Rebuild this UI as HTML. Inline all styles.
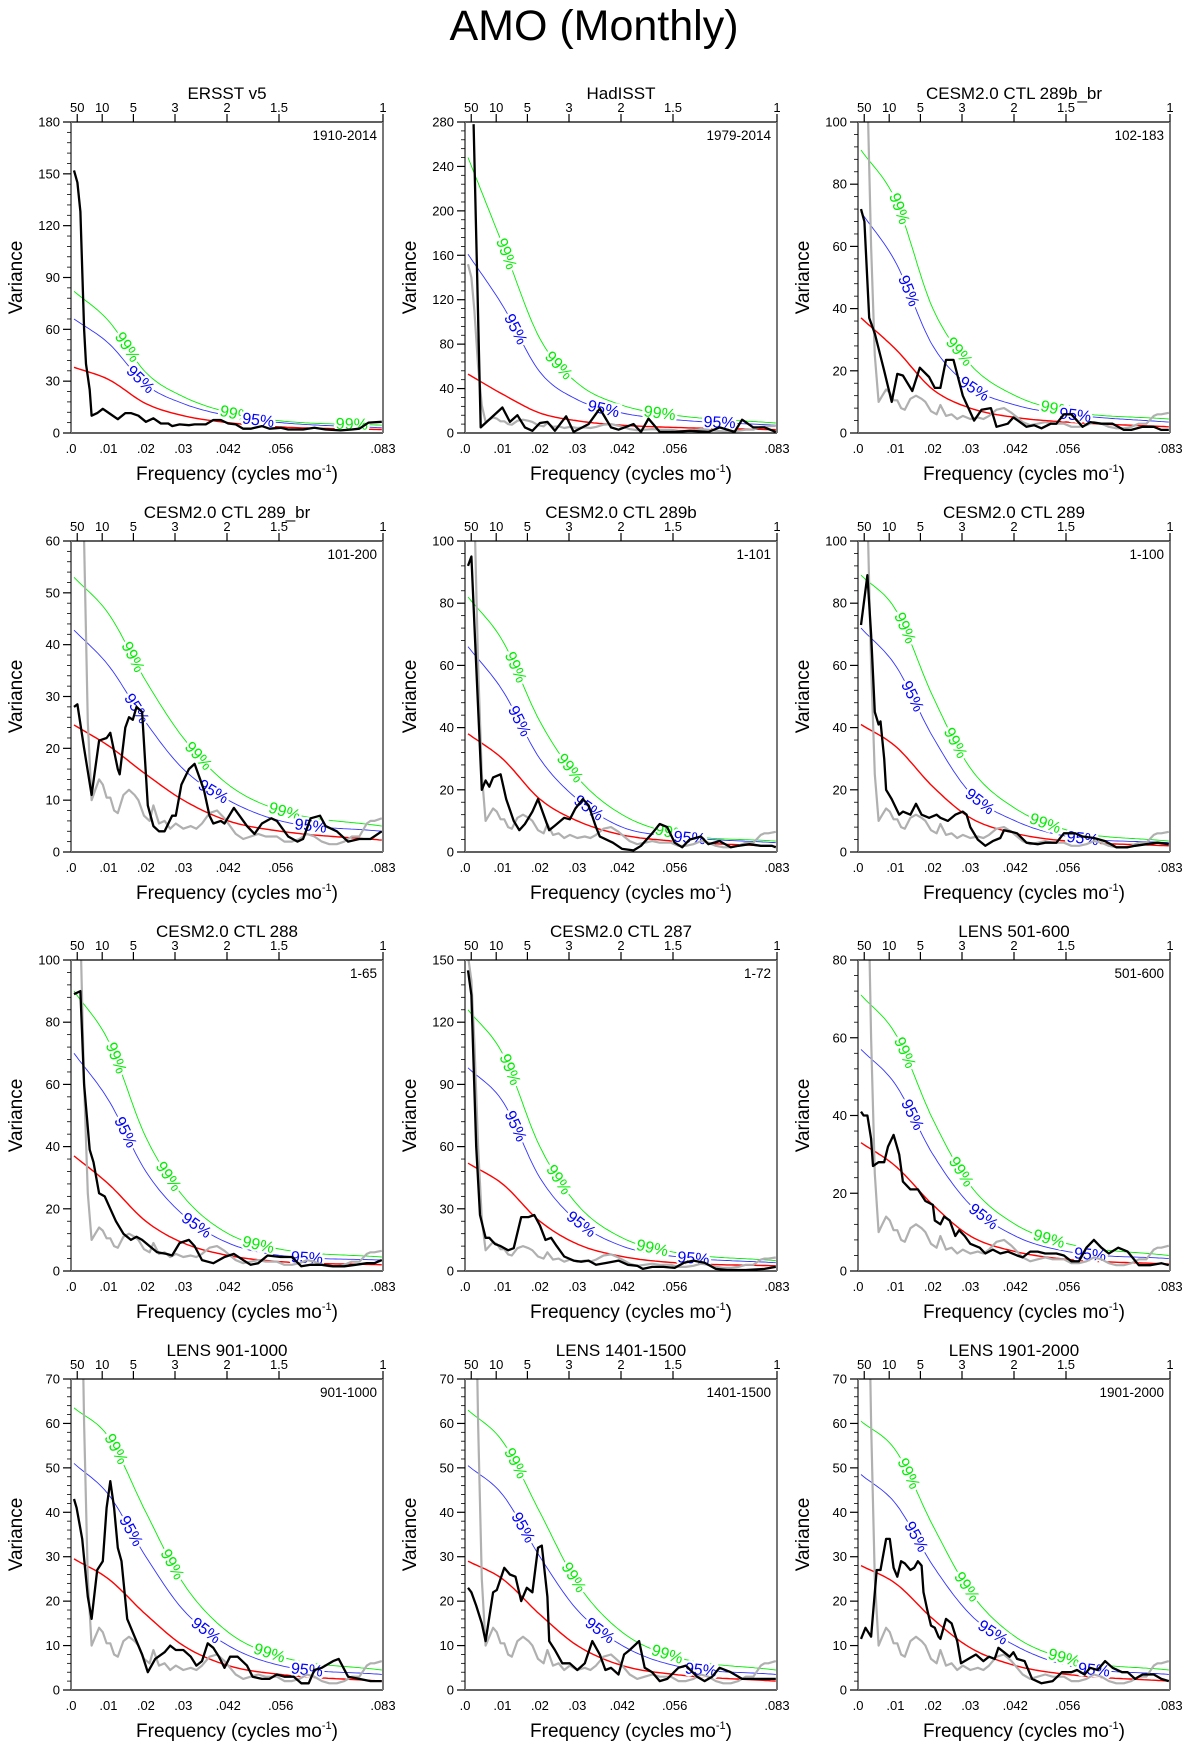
<!DOCTYPE html>
<html><head><meta charset="utf-8">
<style>
html,body{margin:0;padding:0;background:#fff;}
svg{display:block;font-family:"Liberation Sans",sans-serif;}
</style></head>
<body>
<svg id="fig" width="1189" height="1748" viewBox="0 0 1189 1748" xmlns="http://www.w3.org/2000/svg">
<text x="594" y="40" text-anchor="middle" font-size="43">AMO (Monthly)</text>
</svg>
<script>
// ---- data ----
const panelTitles = ["ERSST v5","HadISST","CESM2.0 CTL 289b_br","CESM2.0 CTL 289_br","CESM2.0 CTL 289b","CESM2.0 CTL 289","CESM2.0 CTL 288","CESM2.0 CTL 287","LENS 501-600","LENS 901-1000","LENS 1401-1500","LENS 1901-2000"];
const panelRanges = ["1910-2014","1979-2014","102-183","101-200","1-101","1-100","1-65","1-72","501-600","901-1000","1401-1500","1901-2000"];
const yMax = [180,280,100,60,100,100,100,150,80,70,70,70];
const yStep = [30,40,20,10,20,20,20,30,20,10,10,10];
const xTickVals = [0,0.01,0.02,0.03,0.042,0.056,1/12];
const xTickLabels = [".0",".01",".02",".03",".042",".056",".083"];
const periodTicks = [50,10,5,3,2,1.5,1];
const sigF = [0.0008,0.01,0.02,0.03,0.042,0.056,0.083];
const redV = [
[38,31,17,10,6,3.5,2],[53,35,18,11,7,5,3],[37,27,14,8,5,3.5,2],[24.5,20.5,15,10,6,4,2.3],
[38,30,17,10,5.5,3.5,1.8],[41,34,21,11,6,3.5,2],[37,28,16,9,5,3,2],[52,42,24,13,7,4,2.5],
[33,27,17,9,5,3,1.8],[29.5,25,17,10,5.5,3.5,2],[29,25,17,10,5.5,3.5,2],[28,24,16,9.5,5.5,3.5,2]];
const blueV = [
[66,52,28,17,10,6,3],[161,115,55,30,18,12,7],[71,55,28,15,9,6,3.5],[42.8,36,25,16,10,6,4],
[66,52,30,17,8,5,3],[72,60,37,19,10,5,3],[70,55,32,18,9,5,3.5],[98,82,45,24,12,7,4],
[57,48,30,17,9,5,3.2],[51,44,30,18,10,5.5,3.5],[50.5,44,30,18,10,5.5,3.5],[48.5,42,28,17,10,5.5,3.5]];
const greenV = [
[82,65,35,21,12,7,4.5],[248,170,85,45,25,16,9],[91,75,40,22,12,7,4.5],[53,46,33,22,13,8,5],
[82,68,42,24,12,6,3.5],[89,78,50,27,14,7,3.5],[90,74,43,24,12,7,4.5],[126,105,60,32,16,9,5],
[71,61,39,22,12,7,4],[63.5,57,40,24,13,7.5,4.5],[63,56,40,24,13,7.5,4.5],[60.5,54,37,22,12,7,4.5]];
const grayF = [.0008,.0017,.0025,.0035,.0045,.0055,.0065,.0075,.0085,.0095,.0105,.0115,.0125,.014,.0155,.017,.018,.0195,.021,.022,.0235,.025,.0265,.028,.03,.032,.0335,.035,.037,.039,.041,.0425,.044,.046,.048,.05,.052,.055,.057,.059,.061,.063,.065,.067,.069,.071,.073,.075,.077,.079,.08,.081,.083];
const grayV = [152,140,110,60,25,10,12,14,13,10.5,10.5,8,7.5,11,12,11,10,7,6,9,5.5,6,4.5,5.5,4.5,5,4.5,5.5,7.5,8,6.5,5,3.5,2.5,3,3.5,3,3,2,2,2.5,3.5,3,2,1.5,1.5,2,3,3,5.5,6,6,6.5];
const showGray = [false,true,true,true,true,true,true,true,true,true,true,true];
const blackF = [
[.0008,.0017,.0025,.0035,.004,.005,.0055,.007,.0085,.0105,.0125,.0145,.016,.018,.02,.022,.024,.026,.027,.029,.0315,.033,.036,.038,.040,.042,.044,.046,.048,.051,.053,.056,.058,.062,.065,.068,.072,.075,.077,.0795,.083],
[.0023,.0042,.01,.012,.014,.016,.018,.02,.022,.024,.027,.029,.033,.036,.039,.041,.045,.047,.049,.052,.056,.06,.065,.068,.072,.074,.077,.08,.083],
[.0008,.0017,.003,.0045,.007,.009,.0105,.012,.0145,.0165,.019,.0205,.022,.0235,.0255,.028,.031,.033,.0355,.037,.04,.0415,.045,.047,.049,.0515,.053,.055,.057,.06,.062,.065,.068,.071,.073,.076,.079,.081,.083],
[.0008,.0017,.0035,.0055,.0075,.0095,.0105,.0125,.013,.0145,.0155,.0165,.0175,.019,.0205,.022,.0235,.025,.027,.028,.0295,.0315,.033,.0355,.037,.038,.04,.041,.0435,.045,.047,.049,.051,.0535,.055,.058,.0605,.062,.064,.0665,.068,.071,.074,.077,.08,.083],
[.0008,.0017,.003,.0045,.0055,.0065,.0075,.0095,.011,.013,.0145,.016,.018,.0195,.021,.0225,.024,.0265,.028,.0295,.0315,.033,.035,.036,.0395,.042,.045,.047,.05,.052,.054,.056,.058,.06,.063,.065,.068,.071,.073,.076,.079,.082,.083],
[.0008,.0025,.0035,.0045,.0055,.006,.007,.0075,.009,.011,.012,.014,.0155,.017,.019,.021,.022,.024,.026,.028,.029,.030,.032,.034,.036,.038,.039,.041,.0425,.045,.048,.05,.053,.055,.058,.06,.063,.066,.069,.072,.074,.077,.080,.083],
[.0008,.0025,.0035,.005,.006,.0075,.009,.0105,.012,.014,.016,.0175,.019,.021,.023,.0255,.027,.029,.0315,.033,.035,.038,.041,.0435,.046,.048,.05,.0525,.056,.059,.0615,.064,.067,.07,.073,.076,.079,.081,.083],
[.0008,.0017,.003,.004,.0055,.0065,.008,.0095,.0115,.013,.015,.017,.0185,.02,.0215,.023,.0245,.0265,.029,.031,.033,.035,.038,.041,.0435,.046,.0475,.05,.053,.056,.0585,.061,.064,.067,.07,.075,.08,.083],
[.0008,.0015,.0025,.0035,.004,.0055,.007,.008,.0095,.011,.012,.014,.016,.018,.02,.0205,.022,.023,.0245,.026,.027,.0285,.03,.0325,.034,.036,.038,.04,.0425,.044,.046,.048,.05,.053,.055,.057,.059,.061,.063,.065,.067,.0695,.072,.075,.078,.081,.083],
[.0008,.0015,.003,.0045,.0055,.007,.0085,.0095,.0105,.0115,.0125,.0135,.015,.017,.019,.0205,.0225,.025,.0265,.028,.03,.032,.0335,.035,.0365,.038,.0395,.041,.0425,.0445,.047,.0485,.051,.053,.055,.057,.0595,.0615,.0635,.065,.067,.070,.0715,.074,.077,.080,.083],
[.0008,.0017,.003,.0045,.0055,.0075,.0085,.0105,.012,.0135,.015,.0165,.018,.0195,.0205,.022,.0225,.024,.026,.028,.03,.032,.034,.036,.0375,.039,.041,.0425,.044,.0465,.048,.05,.052,.054,.057,.059,.062,.064,.066,.068,.071,.074,.077,.08,.083],
[.0008,.002,.0035,.005,.006,.0075,.0085,.0095,.0105,.0115,.0125,.014,.015,.016,.017,.0175,.0185,.0195,.0205,.0215,.022,.0235,.025,.0265,.0275,.0295,.0315,.0335,.035,.0365,.0375,.039,.0405,.0415,.0425,.0445,.0465,.049,.052,.0545,.057,.0585,.0605,.062,.064,.066,.068,.0705,.072,.074,.076,.079,.081,.083]];
const blackV = [
[152,145,128,60,40,25,10,11.5,14,11,8,11.5,11.5,10,6.5,8.5,5.5,5.5,4,5,4.5,5,5,7.5,7.5,5.5,5,2.5,2.5,4,2.5,3,2,2,3,2,1.5,2,2.5,6,6.5],
[278,5,23,10,16,5,2,9,10,2,15,1,8,22,5,3,8,1,13,1,1,2,1,5,1,12,5,5,1],
[72,68,37,32,20,10,19,18.5,13.5,21,18,14.5,14.5,23.5,23.5,12,4,7.5,8,2,3,5,2,2.5,1.5,3,3,6,6,2,3.5,3,3,1,1,2,2,1,1],
[28,28.5,20,11,21.5,22,23,16,15,24,26,25.5,28,27,9,5,4,4,7,7,13,16,17,12,7,5.5,6,5.5,8.5,7,5,3.5,5.5,6.5,6,3,2,2.5,6.5,7,5,4,2,2.5,2.5,4],
[92,95,60,20,23,21,24,25,17,10,7,9,13,17,12,7,8.5,11,10.5,14,17,15,8,5,3,1,0.5,2,6,9,8,3,1.5,4,5,2.5,3.5,1.5,2,2.5,2,2,1.5],
[73,89,70,45,41,42,30,20,17,12,13,12,15.5,12,11,12,11,10,12,13,12,8,4,2,3.5,4.5,7,6.5,6,3,2.5,3,3,6,6,5,4.5,3.5,1.5,1.5,2,2.5,3,2.5],
[89,90,60,39,35,25,24,20,16,12,10,11,10,8,6,5.5,5,9,10,8,3.5,2.5,4.5,5.5,3.5,2,2.5,5,4.5,4.5,1.5,2,2,1.5,1.5,2,2.5,2.5,3.5],
[145,133,60,27,16,16,13,12,10,11,26,26,27,22,15,16,12,7,5,4.5,5,3,4,5,3,2.5,1,2,2,1.5,4,5,4,1,0.5,0.5,1,2],
[41,40,40,34,27,28,28,32,35,30,23,21,21,18,17,13,12,14,13,9,10.5,9,7,6,4.5,5.5,4.5,5,4,3.5,5,5,4.5,4.5,4,2.5,2.5,6,8,6,4.5,6,5,1.5,1.5,2,1.5],
[43,41,34,21,16,27,29,41,47,41,32,29,16,12,8,4,7,8.5,10,9,9,7.5,5.5,6.5,10.5,9.5,7.5,5,7.5,7.5,5.5,3,2.5,2.5,3.5,3,3,1.5,1.5,4.5,5,6.5,7,3,2.5,2,2],
[23,22,19,15,11,22,22.5,27.5,26,25.5,20,23,22,32,32.5,21,11,9,6,6,4.5,6,11,8,4.5,5,3.5,8,9,11,5,4,2,2.5,5,5.5,3,2,3,5,4,2.5,2.5,2.5,2.5],
[11.5,14,12,27,27,34,34,27.5,25.5,29,28.5,27,27.5,29,28,22,18,14.5,14,12,11.5,16,15,11,6,7,8,6.5,7.5,7,9.5,8.5,7.5,8.5,7,6.5,2.5,1.5,2,4,4,4.5,3.5,5,4.5,6.5,5,4,4,2.5,3.5,3.5,2.5,2]];
const labelGreenF = [[0.015,0.044,0.075],[0.011,0.025,0.052],[0.011,0.027,0.053],[0.0165,0.034,0.057],[0.0135,0.028,0.055],[0.0125,0.026,0.05],[0.012,0.026,0.05],[0.012,0.025,0.05],[0.0125,0.0275,0.051],[0.012,0.027,0.053],[0.0135,0.029,0.054],[0.0135,0.029,0.055]];
const labelBlueF = [[0.0185,0.05],[0.0135,0.037,0.068],[0.0135,0.031,0.058],[0.0175,0.038,0.064],[0.0145,0.033,0.06],[0.0145,0.0325,0.06],[0.0145,0.0335,0.063],[0.0135,0.031,0.061],[0.0145,0.0335,0.062],[0.016,0.036,0.063],[0.0155,0.036,0.063],[0.0155,0.036,0.063]];

// ---- layout ----
const colX = [71,465,858];
const rowY = [122,541,960,1379];
const PW = 312, PH = 311, FMAX = 1/12;
const NS = "http://www.w3.org/2000/svg";
const svg = document.getElementById('fig');
function el(tag, attrs, parent){const e=document.createElementNS(NS,tag);for(const k in attrs)e.setAttribute(k,attrs[k]);(parent||svg).appendChild(e);return e;}

// monotone cubic interpolation of read points (drawing only)
function mono(xs, ys){
  const n=xs.length, d=[], m=[];
  for(let i=0;i<n-1;i++) d.push((ys[i+1]-ys[i])/(xs[i+1]-xs[i]));
  m[0]=d[0]; m[n-1]=d[n-2];
  for(let i=1;i<n-1;i++){ m[i]= d[i-1]*d[i]<=0?0:(d[i-1]+d[i])/2; }
  for(let i=0;i<n-1;i++){ if(d[i]===0){m[i]=m[i+1]=0;continue;} const a=m[i]/d[i], b=m[i+1]/d[i]; const s=a*a+b*b; if(s>9){const t=3/Math.sqrt(s); m[i]=t*a*d[i]; m[i+1]=t*b*d[i];} }
  return function(x){ let i=0; while(i<n-2 && x>xs[i+1]) i++; const h=xs[i+1]-xs[i], t=Math.min(1,Math.max(0,(x-xs[i])/h)); const t2=t*t,t3=t2*t; return (2*t3-3*t2+1)*ys[i]+(t3-2*t2+t)*h*m[i]+(-2*t3+3*t2)*ys[i+1]+(t3-t2)*h*m[i+1]; };
}

for(let p=0;p<12;p++){
  const X0=colX[p%3], Y0=rowY[Math.floor(p/3)];
  const xs=f=>X0+f/FMAX*PW;
  const ys=v=>Y0+PH-v/yMax[p]*PH;
  const g=el('g',{});
  
  
  const cid='clip'+p;
  const cp=el('clipPath',{id:cid},g); el('rect',{x:X0,y:Y0,width:PW,height:PH},cp);
  const plot=el('g',{'clip-path':'url(#'+cid+')'},g);

  // significance curves
  const curves=[[greenV[p],'#00ee00',0.9,'sig-99-curve'],[blueV[p],'#3333ff',0.9,'sig-95-curve'],[redV[p],'#ff0000',1.4,'markov-red-noise']];
  const fns={};
  curves.forEach(c=>{
    const fn=mono(sigF,c[0]); fns[c[3]]=fn;
    let d=''; for(let k=0;k<=120;k++){const f=sigF[0]+(sigF[6]-sigF[0])*k/120; d+=(k?'L':'M')+xs(f).toFixed(1)+','+ys(fn(f)).toFixed(1);}
    const pe=el('path',{d:d,fill:'none',stroke:c[1],'stroke-width':c[2]},plot);
    
    
  });
  // curve labels (drawn before spectra so they only gap the significance curves)
  const lab=(fs,fn,txt,col)=>{
    fs.forEach(f=>{
      const x=xs(f), y=ys(fn(f));
      const x2=xs(f+0.0005), y2=ys(fn(f+0.0005));
      const ang=Math.atan2(y2-y,x2-x)*180/Math.PI;
      const t=el('text',{x:0,y:5,'text-anchor':'middle','font-size':16,fill:col,transform:'translate('+x.toFixed(1)+','+y.toFixed(1)+') rotate('+ang.toFixed(1)+')',stroke:'#fff','stroke-width':5,'paint-order':'stroke'},plot);
      t.textContent=txt;
      
      
    });
  };
  lab(labelGreenF[p],fns['sig-99-curve'],'99%','#00ee00');
  lab(labelBlueF[p],fns['sig-95-curve'],'95%','#0000ff');
  // gray
  if(showGray[p]){
    let d=''; grayF.forEach((f,i)=>{d+=(i?'L':'M')+xs(f).toFixed(1)+','+ys(grayV[i]).toFixed(1);});
    const pe=el('path',{d:d,fill:'none',stroke:'#b0b0b0','stroke-width':2.2,'stroke-linejoin':'round'},plot);
    
    
  }
  // black
  {
    let d=''; blackF[p].forEach((f,i)=>{d+=(i?'L':'M')+xs(f).toFixed(1)+','+ys(blackV[p][i]).toFixed(1);});
    const pe=el('path',{d:d,fill:'none',stroke:'#000','stroke-width':2.3,'stroke-linejoin':'round'},plot);
    
    
  }

  // frame
  el('line',{x1:X0,y1:Y0,x2:X0+PW,y2:Y0,stroke:'#000','stroke-width':1.3},g);
  el('line',{x1:X0,y1:Y0+PH,x2:X0+PW,y2:Y0+PH,stroke:'#000','stroke-width':1.3},g);
  el('line',{x1:X0,y1:Y0,x2:X0,y2:Y0+PH,stroke:'#777','stroke-width':2},g);
  el('line',{x1:X0+PW,y1:Y0,x2:X0+PW,y2:Y0+PH,stroke:'#777','stroke-width':2},g);

  // y ticks
  const minor=yStep[p]/5;
  for(let v=0; v<=yMax[p]+1e-6; v+=minor){
    const y=ys(v), major=Math.abs(v/yStep[p]-Math.round(v/yStep[p]))<1e-6;
    el('line',{x1:X0-(major?8:4),y1:y,x2:X0,y2:y,stroke:'#000','stroke-width':major?1.2:0.8},g);
    if(major){const t=el('text',{x:X0-11,y:y+4.5,'text-anchor':'end','font-size':13},g); t.textContent=Math.round(v);
       }
  }
  // bottom x ticks
  xTickVals.forEach((f,i)=>{
    const t=el('text',{x:xs(f),y:Y0+PH+20,'text-anchor':'middle','font-size':13},g); t.textContent=xTickLabels[i];
     
  });
  // top period ticks
  periodTicks.forEach(P=>{
    const x=xs(1/(12*P));
    el('line',{x1:x,y1:Y0-8,x2:x,y2:Y0,stroke:'#000','stroke-width':1.2},g);
    const t=el('text',{x:x,y:Y0-10,'text-anchor':'middle','font-size':13},g); t.textContent=String(P);
     
  });
  // titles
  const tt=el('text',{x:X0+PW/2,y:Y0-23,'text-anchor':'middle','font-size':17},g); tt.textContent=panelTitles[p];
   
  const tr=el('text',{x:X0+PW-6,y:Y0+18,'text-anchor':'end','font-size':13.5},g); tr.textContent=panelRanges[p];
   
  const yl=el('text',{x:0,y:0,'text-anchor':'middle','font-size':19,transform:'translate('+(X0-49)+','+(Y0+PH/2)+') rotate(-90)'},g); yl.textContent='Variance';
   
  const xl=el('text',{x:X0+PW/2+10,y:Y0+PH+47,'text-anchor':'middle','font-size':19},g);
   
  xl.appendChild(document.createTextNode('Frequency (cycles mo'));
  const sup=el('tspan',{'font-size':11,dy:-8},xl); sup.textContent='-1';
  const cl=el('tspan',{dy:8},xl); cl.textContent=')';
}
</script>
</body></html>
